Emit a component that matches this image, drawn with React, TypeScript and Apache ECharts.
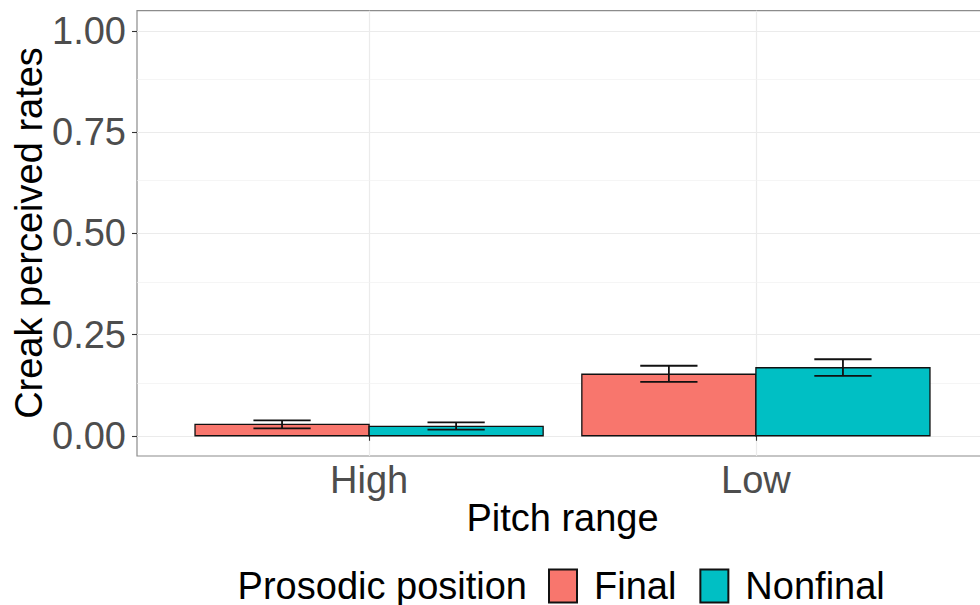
import React, { useEffect, useRef } from "react";
import * as echarts from "echarts";

const categories = ["High", "Low"];
const finalMean = [0.028, 0.152];
const finalLow = [0.018, 0.133];
const finalHigh = [0.038, 0.173];
const nonfinalMean = [0.023, 0.168];
const nonfinalLow = [0.015, 0.148];
const nonfinalHigh = [0.033, 0.189];
const yTicks = [0, 0.25, 0.5, 0.75, 1];
const yMinor = [0.125, 0.375, 0.625, 0.875];

const FONT = "'Liberation Sans', Arial, Helvetica, sans-serif";
const FS = 38;

function makeSeries(name: string, color: string, mean: number[], lo: number[], hi: number[], offset: number, withMinor: boolean) {
  const data = categories.map((c, i) => [i + 1, mean[i], lo[i], hi[i]]);
  const s: any = {
    name,
    type: "custom",
    itemStyle: { color, borderColor: "#111", borderWidth: 1.2 },
    data,
    clip: false,
    renderItem: (params: any, api: any) => {
      const cx = api.value(0) + offset;
      const m = api.value(1);
      const l = api.value(2);
      const h = api.value(3);
      const p0 = api.coord([cx - 0.225, 0]);
      const p1 = api.coord([cx + 0.225, m]);
      const lo0 = api.coord([cx - 0.074, l]);
      const lo1 = api.coord([cx + 0.074, l]);
      const hi0 = api.coord([cx - 0.074, h]);
      const hi1 = api.coord([cx + 0.074, h]);
      const ls = { stroke: "#111", lineWidth: 1.8 };
      return {
        type: "group",
        children: [
          {
            type: "rect",
            shape: { x: p0[0], y: p1[1], width: p1[0] - p0[0], height: p0[1] - p1[1] },
            style: { fill: color, stroke: "#111", lineWidth: 1.3 },
          },
          { type: "line", shape: { x1: (lo0[0] + lo1[0]) / 2, y1: lo0[1], x2: (hi0[0] + hi1[0]) / 2, y2: hi0[1] }, style: ls },
          { type: "line", shape: { x1: lo0[0], y1: lo0[1], x2: lo1[0], y2: lo1[1] }, style: ls },
          { type: "line", shape: { x1: hi0[0], y1: hi0[1], x2: hi1[0], y2: hi1[1] }, style: ls },
        ],
      };
    },
  };
  if (withMinor) {
    s.markLine = {
      silent: true,
      symbol: "none",
      label: { show: false },
      lineStyle: { color: "#f0f0f0", width: 0.7, type: "solid" },
      z: 0,
      data: yMinor.map((v) => ({ yAxis: v })),
    };
  }
  return s;
}

export default function App() {
  const ref = useRef<HTMLDivElement>(null);
  useEffect(() => {
    const chart = echarts.init(ref.current!, null, { renderer: "svg" });
    chart.setOption({
      animation: false,
      backgroundColor: "#fff",
      textStyle: { fontFamily: FONT },
      grid: {
        left: 137,
        top: 10.7,
        width: 851,
        height: 445.3,
        outerBoundsMode: "none",
        containLabel: false,
        show: true,
        borderColor: "#8c8c8c",
        borderWidth: 1.2,
        backgroundColor: "transparent",
      },
      xAxis: {
        type: "value",
        min: 0.4,
        max: 2.6,
        axisLine: { show: false },
        axisTick: { show: true, customValues: [1, 2], length: 5, lineStyle: { color: "#333", width: 1.1 } },
        axisLabel: {
          customValues: [1, 2],
          formatter: (v: number) => categories[Math.round(v) - 1] ?? "",
          fontSize: FS,
          color: "#4d4d4d",
          fontFamily: FONT,
          margin: 5,
        },
        splitLine: { show: true, lineStyle: { color: "#ebebeb", width: 1.2 } },
      },
      yAxis: {
        type: "value",
        min: -0.05,
        max: 1.05,
        axisLine: { show: false },
        axisTick: { show: true, customValues: yTicks, length: 5, lineStyle: { color: "#333", width: 1.1 } },
        axisLabel: {
          customValues: yTicks,
          formatter: (v: number) => v.toFixed(2),
          fontSize: FS,
          color: "#4d4d4d",
          fontFamily: FONT,
          margin: 11,
        },
        splitLine: { show: true, lineStyle: { color: "#ebebeb", width: 1.2 } },
      },
      legend: {
        left: 548,
        top: 567,
        padding: 0,
        icon: "rect",
        itemWidth: 28,
        itemHeight: 33,
        itemGap: 23,
        textStyle: { fontSize: FS, color: "#000", fontFamily: FONT, padding: [0, 0, 0, 12] },
        data: ["Final", "Nonfinal"],
      },
      graphic: [
        {
          type: "text",
          x: 29,
          y: 233,
          rotation: Math.PI / 2,
          style: { text: "Creak perceived rates", fontSize: FS, fill: "#000", font: `${FS}px ${FONT}`, textAlign: "center", textVerticalAlign: "middle" },
        },
        {
          type: "text",
          x: 562.5,
          y: 518,
          style: { text: "Pitch range", fontSize: FS, fill: "#000", font: `${FS}px ${FONT}`, textAlign: "center", textVerticalAlign: "middle" },
        },
        {
          type: "text",
          x: 527,
          y: 586,
          style: { text: "Prosodic position", fontSize: FS, fill: "#000", font: `${FS}px ${FONT}`, textAlign: "right", textVerticalAlign: "middle" },
        },
      ],
      series: [
        makeSeries("Final", "#F8766D", finalMean, finalLow, finalHigh, -0.225, true),
        makeSeries("Nonfinal", "#00BFC4", nonfinalMean, nonfinalLow, nonfinalHigh, 0.225, false),
      ],
    });
    return () => chart.dispose();
  }, []);
  return <div ref={ref} style={{ position: "fixed", left: 0, top: 0, width: 980, height: 605 }} />;
}
